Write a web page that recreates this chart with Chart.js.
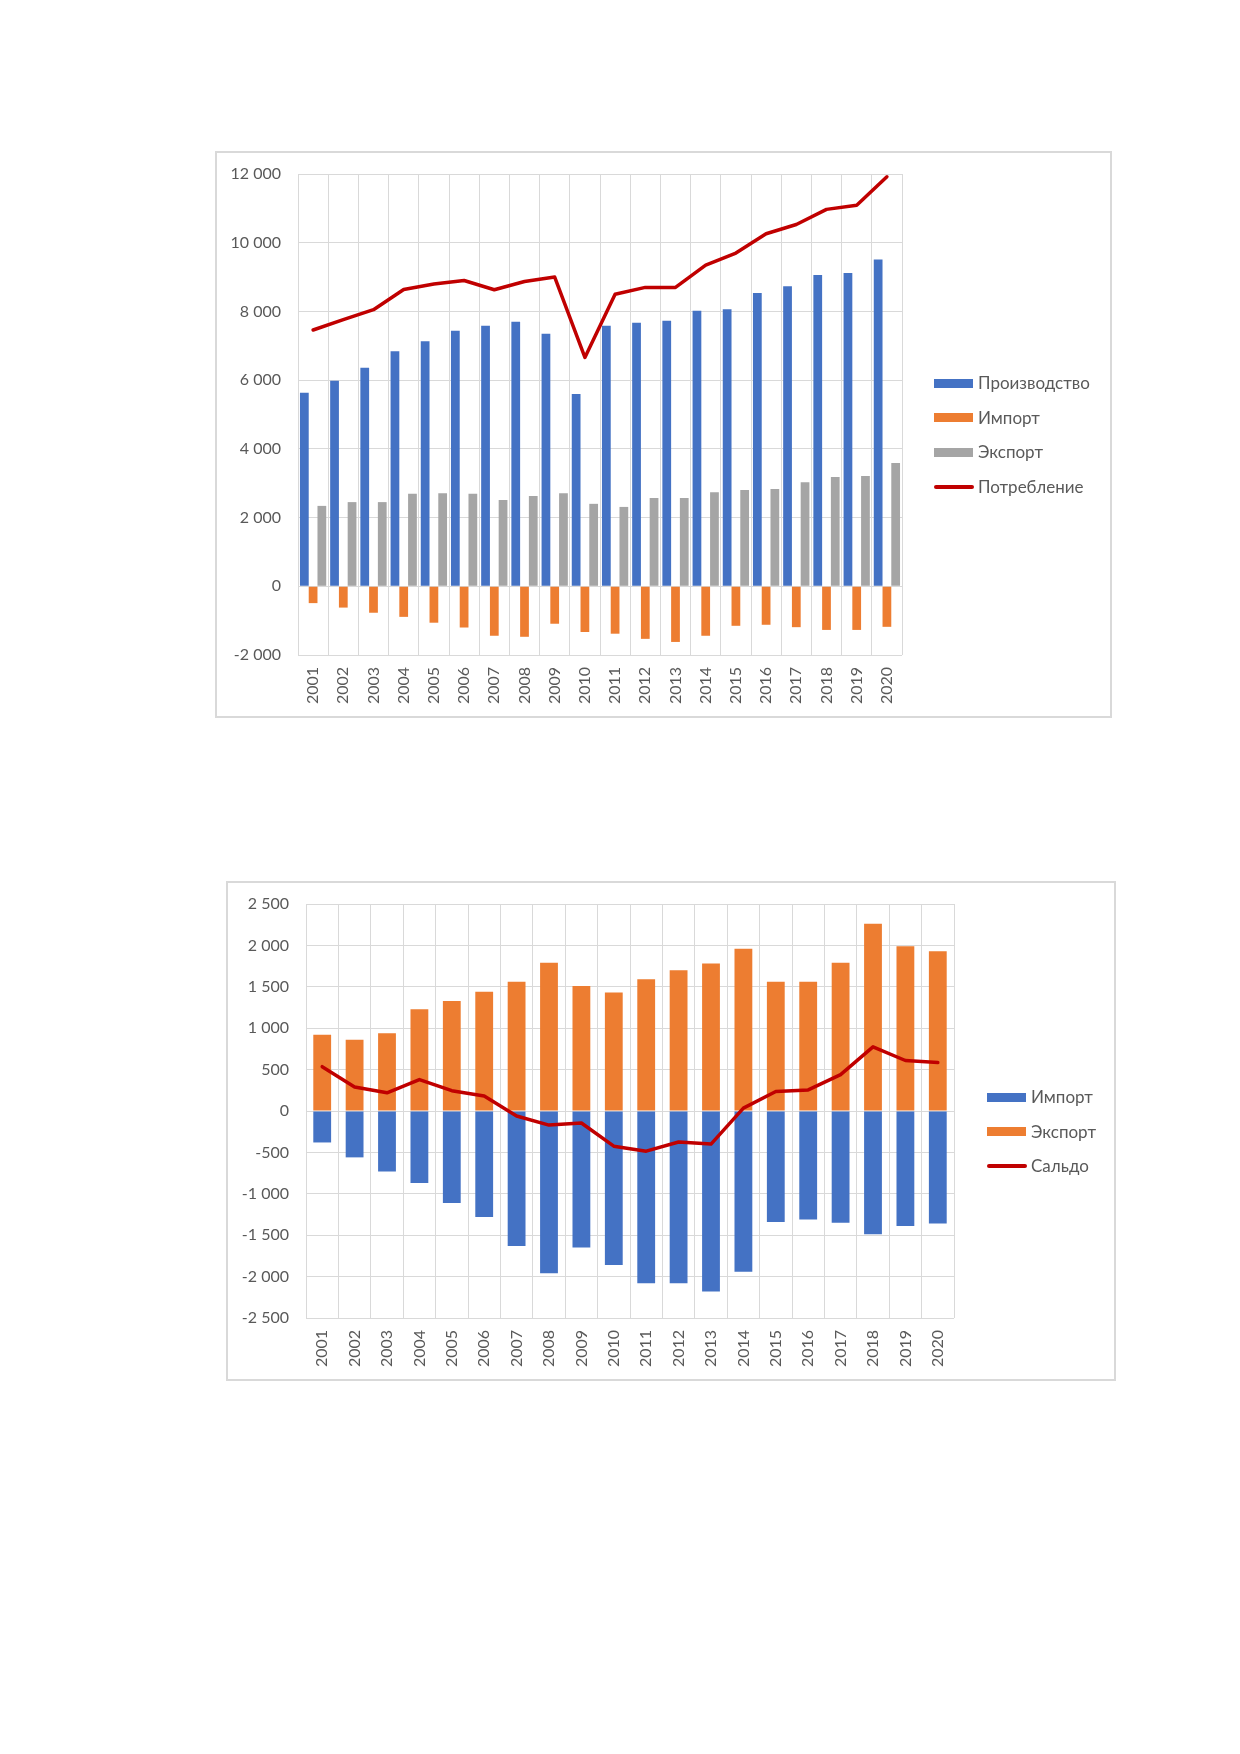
<!DOCTYPE html>
<html>
<head>
<meta charset="utf-8">
<script src="https://cdn.jsdelivr.net/npm/chart.js@4.4.1/dist/chart.umd.min.js"></script>
<style>
  body { margin: 0; background: #fff; width: 1240px; height: 1754px; position: relative; font-family: Lato, "Noto Sans", sans-serif; }
  .frame { position: absolute; box-sizing: border-box; border: 2px solid #d9d9d9; background: #fff; }
  .box { position: absolute; }
  .legend { position: absolute; color: #595959; font-size: 17px; }
  .legend .item { position: absolute; left: 0; height: 20px; white-space: nowrap; }
  .legend .sw { position: absolute; left: 0; }
  .legend .txt { position: absolute; top: 0; line-height: 20px; }
</style>
</head>
<body>
<div class="frame" style="left:215px;top:151px;width:897px;height:567px;"></div>
<div class="box" style="left:217px;top:153px;width:893px;height:563px;"><canvas id="balanceChart"></canvas></div>
<div class="legend" id="legend1" style="left:934px;top:373px;"></div>

<div class="frame" style="left:226px;top:881px;width:890px;height:500px;"></div>
<div class="box" style="left:228px;top:883px;width:886px;height:496px;"><canvas id="tradeChart"></canvas></div>
<div class="legend" id="legend2" style="left:987px;top:1087px;"></div>

<script>
// Years on both charts
const years = ['2001', '2002', '2003', '2004', '2005', '2006', '2007', '2008', '2009', '2010',
               '2011', '2012', '2013', '2014', '2015', '2016', '2017', '2018', '2019', '2020'];

// Upper chart: production, import, export, consumption
const production  = [5630, 5980, 6360, 6840, 7130, 7440, 7580, 7700, 7350, 5600, 7580, 7670, 7730, 8020, 8060, 8540, 8730, 9060, 9120, 9510];
const importMain  = [-490, -620, -770, -890, -1060, -1200, -1440, -1470, -1090, -1330, -1380, -1530, -1620, -1440, -1150, -1120, -1190, -1270, -1270, -1180];
const exportMain  = [2340, 2450, 2450, 2690, 2710, 2690, 2510, 2630, 2710, 2400, 2310, 2570, 2570, 2740, 2800, 2830, 3030, 3180, 3210, 3590];
const consumption = [7460, 7760, 8050, 8640, 8800, 8900, 8630, 8870, 9000, 6660, 8500, 8700, 8700, 9350, 9700, 10260, 10530, 10970, 11090, 11920];

// Lower chart: import, export, balance
const importTrade = [-380, -560, -730, -870, -1110, -1280, -1630, -1960, -1650, -1860, -2080, -2080, -2180, -1940, -1340, -1310, -1350, -1490, -1390, -1360];
const exportTrade = [920, 860, 940, 1230, 1330, 1440, 1560, 1790, 1510, 1430, 1590, 1700, 1780, 1960, 1560, 1560, 1790, 2260, 1990, 1930];
const balance     = [535, 290, 220, 380, 245, 180, -60, -170, -145, -425, -485, -375, -400, 35, 235, 255, 440, 775, 610, 585];

const BLUE = '#4472C4', ORANGE = '#ED7D31', GREY = '#A5A5A5', RED = '#C00000';
const GRID = '#d9d9d9', TEXT = '#595959';
const FONT = { family: 'Lato, "Noto Sans", sans-serif', size: 16 };

// "12000" -> "12 000", "-2000" -> "-2 000"
function fmt(v) {
    const s = Math.abs(v).toString().replace(/\B(?=(\d{3})+(?!\d))/g, ' ');
    return (v < 0 ? '-' : '') + s;
}

function makeScales(min, max, step, yWidth, xHeight, stacked) {
    return {
        x: {
            stacked: stacked,
            offset: true,
            grid: { color: GRID, offset: true, drawTicks: false },
            border: { display: false },
            ticks: { color: TEXT, font: FONT, padding: 12, minRotation: 90, maxRotation: 90, autoSkip: false },
            afterFit: scale => { scale.height = xHeight; }
        },
        y: {
            stacked: stacked,
            min: min, max: max,
            // invisible tick marks keep the gap between labels and plot
            grid: { color: GRID, drawTicks: true, tickLength: 17, tickColor: 'rgba(0,0,0,0)' },
            border: { display: false },
            ticks: { color: TEXT, font: FONT, padding: 0, stepSize: step, callback: v => fmt(v) },
            afterFit: scale => { scale.width = yWidth; }
        }
    };
}

function lineSet(label, data) {
    return {
        type: 'line', label: label, data: data, order: 0, stack: 'line',
        borderColor: RED, backgroundColor: RED, borderWidth: 3.5,
        pointRadius: 0, tension: 0, borderCapStyle: 'round', borderJoinStyle: 'round'
    };
}

// Build the legend as html from the chart datasets
function buildLegend(el, chart) {
    chart.data.datasets.forEach((ds, i) => {
        const item = document.createElement('div');
        item.className = 'item';
        item.style.top = (i * 34.7) + 'px';
        const sw = document.createElement('div');
        sw.className = 'sw';
        if (ds.type === 'line') {
            sw.style.cssText = 'top:8px;width:40px;height:4px;border-radius:2px;background:' + ds.borderColor;
        } else {
            sw.style.cssText = 'top:5.5px;width:39px;height:9px;background:' + ds.backgroundColor;
        }
        const txt = document.createElement('div');
        txt.className = 'txt';
        txt.style.left = '44px';
        txt.textContent = ds.label;
        item.appendChild(sw);
        item.appendChild(txt);
        el.appendChild(item);
    });
}

const balanceChart = new Chart(document.getElementById('balanceChart'), {
    type: 'bar',
    data: {
        labels: years,
        datasets: [
            { label: 'Производство', data: production, backgroundColor: BLUE, order: 1, barPercentage: 1, categoryPercentage: 0.87 },
            { label: 'Импорт', data: importMain, backgroundColor: ORANGE, order: 1, barPercentage: 1, categoryPercentage: 0.87 },
            { label: 'Экспорт', data: exportMain, backgroundColor: GREY, order: 1, barPercentage: 1, categoryPercentage: 0.87 },
            lineSet('Потребление', consumption)
        ]
    },
    options: {
        responsive: true,
        maintainAspectRatio: false,
        animation: false,
        layout: { padding: { left: 0, top: 21, right: 208, bottom: 0 } },
        plugins: { legend: { display: false }, tooltip: { enabled: false } },
        scales: makeScales(-2000, 12000, 2000, 81, 61, false)
    }
});

const tradeChart = new Chart(document.getElementById('tradeChart'), {
    type: 'bar',
    data: {
        labels: years,
        datasets: [
            { label: 'Импорт', data: importTrade, backgroundColor: BLUE, order: 1, stack: 'trade', barPercentage: 1, categoryPercentage: 0.55 },
            { label: 'Экспорт', data: exportTrade, backgroundColor: ORANGE, order: 1, stack: 'trade', barPercentage: 1, categoryPercentage: 0.55 },
            lineSet('Сальдо', balance)
        ]
    },
    options: {
        responsive: true,
        maintainAspectRatio: false,
        animation: false,
        layout: { padding: { left: 0, top: 21, right: 160, bottom: 0 } },
        plugins: { legend: { display: false }, tooltip: { enabled: false } },
        scales: makeScales(-2500, 2500, 500, 78, 61, true)
    }
});

buildLegend(document.getElementById('legend1'), balanceChart);
buildLegend(document.getElementById('legend2'), tradeChart);
</script>
</body>
</html>
